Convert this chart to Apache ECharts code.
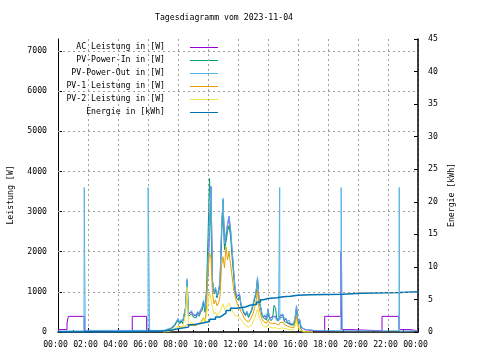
<!DOCTYPE html>
<html><head><meta charset="utf-8">
<script src="https://cdn.jsdelivr.net/npm/echarts@6/dist/echarts.min.js"></script>
<style>html,body{margin:0;padding:0;background:#fff}#c{width:480px;height:360px}</style>
</head><body><div id="c"></div>
<script>
const FONT = '"DejaVu Sans Mono","Liberation Mono",monospace';
const FS = 8.2;
const titleText = 'Tagesdiagramm vom 2023-11-04';
const xTickLabels = ['00:00','02:00','04:00','06:00','08:00','10:00','12:00','14:00','16:00','18:00','20:00','22:00','00:00'];
const leftTicks = [0,1000,2000,3000,4000,5000,6000,7000];
const rightTicks = [0,5,10,15,20,25,30,35,40,45];
const seriesNames = ['AC Leistung in [W]','PV-Power-In in [W]','PV-Power-Out in [W]','PV-1 Leistung in [W]','PV-2 Leistung in [W]','Energie in [kWh]'];
const seriesColors = ['#9400d3','#009e73','#56b4e9','#e69f00','#f0e442','#0072b2'];

// shared daytime sample times (hours)
const dayHours = [7.0,7.1,7.2,7.3,7.4,7.5,7.6,7.7,7.8,7.9,
 8.0,8.1,8.2,8.3,8.4,8.5,8.6,8.7,8.8,8.9,
 9.0,9.1,9.2,9.3,9.4,9.5,9.6,9.7,9.8,9.9,
 10.0,10.1,10.2,10.3,10.4,10.5,10.6,10.7,10.8,10.9,
 11.0,11.1,11.2,11.3,11.4,11.5,11.6,11.7,11.8,11.9,
 12.0,12.1,12.2,12.3,12.4,12.5,12.6,12.7,12.8,12.9,
 13.0,13.1,13.2,13.3,13.4,13.5,13.6,13.7,13.8,13.9,
 14.0,14.1,14.2,14.3,14.4,14.5,14.6,14.7,14.8,14.9,
 15.0,15.1,15.2,15.3,15.4,15.5,15.6,15.7,15.8,15.9,
 16.0,16.1,16.2,16.3,16.4,16.5,16.6,16.7,16.8,16.9,17.0];
const pvOutDay = [40,45,55,75,90,95,120,160,210,270,
 340,240,310,250,290,620,1330,460,420,530,
 450,490,420,510,460,560,610,790,570,950,
 1550,2600,3610,1300,1000,1120,900,1050,1250,2560,
 3335,2200,2450,2700,2880,2600,2100,1600,1120,900,
 860,960,700,660,500,450,520,400,480,560,
 700,860,1000,1375,820,650,460,380,430,330,
 585,350,300,350,400,330,300,280,420,380,
 450,300,350,250,300,220,260,200,350,665,
 250,330,150,100,80,65,90,60,55,50,45];
const pvInDay = [0,5,15,35,55,60,85,120,170,230,
 300,200,270,210,240,560,1250,390,350,450,
 380,410,350,440,390,480,530,700,490,1100,
 2380,3830,2620,1250,950,1060,850,1000,1150,2300,
 3300,2050,2250,2500,2650,2400,1900,1450,1000,850,
 800,900,650,610,460,410,480,360,440,510,
 650,800,950,1300,760,600,420,350,390,300,
 520,330,280,330,665,600,280,260,350,330,
 380,260,300,220,250,180,220,170,300,550,
 200,260,80,20,0,0,0,0,0,0,0];
const pv1Day = [0,2,8,18,28,32,45,60,85,110,
 140,95,125,95,115,160,190,150,160,190,
 170,185,150,205,180,235,270,360,250,600,
 1500,1970,1850,950,700,800,650,720,880,1650,
 1875,1600,2125,1800,2000,1700,1400,1100,900,750,
 650,600,500,450,350,300,320,250,300,330,
 450,600,760,1040,600,460,320,260,280,220,
 300,230,200,210,250,220,180,170,230,200,
 250,180,200,150,170,120,140,110,200,400,
 150,180,60,20,0,0,0,0,0,0,0];
const pv2Day = [0,2,5,12,20,22,35,55,75,110,
 150,100,135,105,120,420,1120,230,180,250,
 200,215,180,225,195,235,250,330,230,420,
 700,1000,800,600,450,500,400,450,520,600,
 700,560,620,650,720,650,560,460,400,360,
 400,350,300,300,210,160,170,120,140,170,
 250,330,450,580,400,300,200,150,150,120,
 180,120,100,100,130,110,90,80,120,100,
 120,90,100,70,80,60,70,50,150,290,
 80,100,40,15,0,0,0,0,0,0,0];
const acDay = [30,35,45,60,75,80,100,140,190,250,
 320,220,290,230,270,600,1290,440,400,500,
 430,470,400,490,440,540,590,760,550,920,
 1500,2550,3625,1250,970,1090,870,1020,1220,2500,
 3280,2150,2400,2650,2875,2550,2050,1560,1090,880,
 840,930,680,640,480,430,500,380,460,540,
 680,840,980,1340,800,630,440,360,410,310,
 560,330,290,390,390,390,390,270,400,360,
 430,280,330,240,280,200,240,190,330,640,
 230,310,140,90,70,55,60,50,45,40,35];

// night parts and narrow spikes (hours / values)
const pvOutExtraHours = [0,1.73,1.75,1.78,1.80,1.82,6.0,6.01,6.10,6.11,6.9,
 14.77,14.78,14.79,
 17.1,18.86,18.88,18.9,18.95,18.96,22.73,22.75,22.77,24];
const pvOutExtra = [25,25,3600,1800,1800,40,40,3600,3600,40,40,
 290,3600,300,
 40,30,3600,1900,1900,30,30,3600,20,30];
const acExtraHours = [0,0.6,0.6,0.69,0.69,1.75,1.75,4.95,4.95,5.91,5.91,6.9,
 17.1,17.78,17.78,18.86,18.87,18.9,18.91,19.47,19.47,21.6,21.6,22.73,22.73,23.47,23.47,24];
const acExtra = [60,60,225,225,390,390,30,30,390,390,30,30,
 30,30,390,390,2000,2000,60,60,30,30,390,390,60,60,30,30];

const energyHours = [0,1.8,3.3,4.6,6.0,7.0,7.5,8.0,8.7,9.0,9.5,10.1,10.5,10.8,11.0,11.2,11.5,11.9,12.5,12.8,13.25,13.5,13.7,14.0,14.6,15.0,15.5,16.0,16.8,19.0,20.2,22.8,24];
const energy = [0,0,0.05,0.1,0.15,0.25,0.5,0.75,1.1,1.3,1.6,1.95,2.3,2.6,2.9,3.3,3.65,3.85,4.1,4.25,4.6,4.95,5.15,5.25,5.4,5.5,5.65,5.72,5.78,5.96,6.07,6.2,6.2];

function pairs(h, v) { return h.map((x, i) => [x, v[i]]); }
function merged(h1, v1, h2, v2) {
  return pairs(h1, v1).concat(pairs(h2, v2)).sort((a, b) => a[0] - b[0]);
}

const acData = merged(acExtraHours, acExtra, dayHours, acDay);
const pvInData = pairs(dayHours, pvInDay);
const pvOutData = merged(pvOutExtraHours, pvOutExtra, dayHours, pvOutDay);
const pv1Data = pairs(dayHours, pv1Day);
const pv2Data = pairs(dayHours, pv2Day);
const energyData = pairs(energyHours, energy);

const txt = {fontFamily: FONT, fontSize: FS, color: '#000'};

function mkLine(i, data, extra) {
  return Object.assign({
    name: seriesNames[i], type: 'line', data: data, showSymbol: false, symbol: 'none',
    color: seriesColors[i], lineStyle: {width: 1, color: seriesColors[i]},
    animation: false, yAxisIndex: 0, silent: true
  }, extra || {});
}

const legendGraphics = [];
seriesNames.forEach((n, i) => {
  const y = 46.7 + i * 13.1;
  legendGraphics.push({type: 'text', x: 165, y: y,
    style: {text: n, fill: '#000', font: FS + 'px ' + FONT, textAlign: 'right', textVerticalAlign: 'middle'}});
  legendGraphics.push({type: 'line', shape: {x1: 190, y1: Math.round(y) + 0.5, x2: 218, y2: Math.round(y) + 0.5},
    style: {stroke: seriesColors[i], lineWidth: 1}});
});

const chart = echarts.init(document.getElementById('c'), null, {renderer: 'canvas'});
chart.setOption({
  backgroundColor: '#fff',
  animation: false,
  grid: {left: 58, right: 62, top: 39, bottom: 28},
  graphic: legendGraphics.concat([
    {type: 'text', x: 224, y: 18, style: {text: titleText, fill: '#000', font: FS + 'px ' + FONT, textAlign: 'center', textVerticalAlign: 'middle'}},
    {type: 'text', x: 11, y: 195, rotation: Math.PI / 2, style: {text: 'Leistung [W]', fill: '#000', font: FS + 'px ' + FONT, textAlign: 'center', textVerticalAlign: 'middle'}},
    {type: 'text', x: 452, y: 195, rotation: Math.PI / 2, style: {text: 'Energie [kWh]', fill: '#000', font: FS + 'px ' + FONT, textAlign: 'center', textVerticalAlign: 'middle'}}
  ]),
  xAxis: {
    type: 'value', min: 0, max: 24, interval: 2,
    axisLine: {show: true, onZero: false, lineStyle: {color: '#000', width: 1.5}},
    axisTick: {show: true, inside: true, length: 4, lineStyle: {color: '#000'}},
    minorTick: {show: true, splitNumber: 2, length: 2, lineStyle: {color: '#000'}},
    splitLine: {show: true, lineStyle: {color: '#a0a0a0', type: [2, 3], width: 1}},
    axisLabel: Object.assign({formatter: v => xTickLabels[Math.round(v / 2)], margin: 9, padding: [0, 5, 0, 0]}, txt)
  },
  yAxis: [
    {
      type: 'value', min: 0, max: 7300, interval: 1000, position: 'left',
      axisLine: {show: true, lineStyle: {color: '#000', width: 1}},
      axisTick: {show: true, inside: true, length: 4, customValues: leftTicks, lineStyle: {color: '#000'}},
      axisLabel: Object.assign({customValues: leftTicks, formatter: v => String(v), margin: 11}, txt),
      splitLine: {show: false}
    },
    {
      type: 'value', min: 0, max: 45, interval: 5, position: 'right',
      axisLine: {show: true, lineStyle: {color: '#000', width: 1.5}},
      axisTick: {show: true, inside: true, length: 4, lineStyle: {color: '#000'}},
      axisLabel: Object.assign({margin: 10, formatter: v => String(v)}, txt),
      splitLine: {show: false}
    }
  ],
  series: [
    mkLine(0, acData, {
      markLine: {silent: true, symbol: ['none', 'none'], label: {show: false}, animation: false,
        lineStyle: {color: '#a0a0a0', type: [2, 3], width: 1},
        data: leftTicks.filter(v => v > 0).map(v => ({yAxis: v}))}
    }),
    mkLine(1, pvInData),
    mkLine(2, pvOutData),
    mkLine(3, pv1Data),
    mkLine(4, pv2Data),
    mkLine(5, energyData, {yAxisIndex: 1, step: 'end', lineStyle: {width: 1.5, color: seriesColors[5]}})
  ]
});
</script>
</body></html>
